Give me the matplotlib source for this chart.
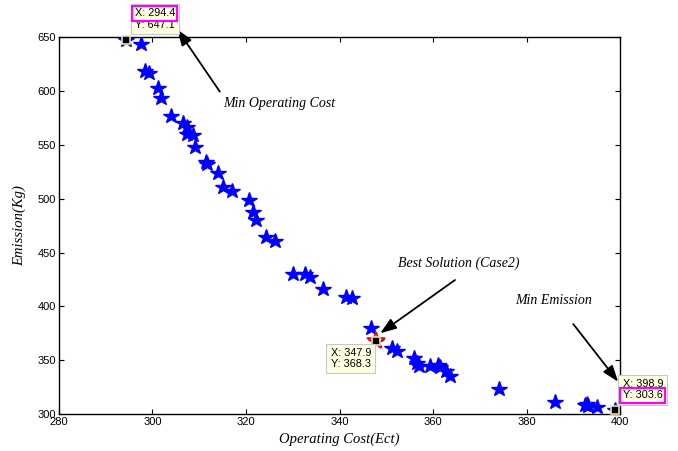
import numpy as np
import matplotlib.pyplot as plt

# Pareto front
cost = [294.4, 297.5, 298.4, 299.3, 301.2, 301.8, 303.9, 306.6, 307.3, 307.4,
        308.7, 309.1, 311.4, 311.7, 314.1, 315.1, 317.1, 320.7, 321.4, 322.1,
        324.2, 326.1, 330.1, 332.6, 333.7, 336.4, 341.3, 342.6, 346.7, 347.9,
        351.2, 352.4, 355.9, 356.6, 357.1, 359.4, 361.1, 361.5, 362.8, 363.6,
        374.2, 386.1, 392.5, 392.9, 393.2, 395.1, 398.9]
emission = [647.1, 643.5, 619.0, 617.1, 602.6, 593.9, 577.2, 570.7, 566.4, 560.2,
            559.2, 548.4, 534.4, 532.3, 524.2, 511.2, 507.5, 498.8, 487.4, 480.2,
            464.7, 461.0, 430.1, 430.1, 427.0, 416.1, 409.0, 408.1, 379.6, 368.3,
            361.1, 358.8, 351.7, 347.1, 344.9, 344.9, 345.5, 343.4, 340.2, 335.3,
            322.9, 310.9, 308.4, 309.3, 307.7, 306.2, 303.6]

min_cost = (294.4, 647.1)
best = (347.9, 368.3)
min_emis = (398.9, 303.6)

x_ticks = [280, 300, 320, 340, 360, 380, 400]
y_ticks = [300, 350, 400, 450, 500, 550, 600, 650]

sans = ['Liberation Sans', 'DejaVu Sans']
serif = ['Liberation Serif', 'DejaVu Serif']
plt.rcParams['font.family'] = sans

fig = plt.figure(figsize=(6.78, 4.51), dpi=100)
ax = fig.add_axes([0.087, 0.082, 0.8275, 0.8353])

ax.plot(cost, emission, linestyle='none', marker='*', markersize=11.5,
        color='#0000ff', markeredgecolor='#0000ff')
ax.plot(best[0], best[1], linestyle='none', marker='*', markersize=13,
        color='white', markeredgecolor='red', markeredgewidth=1.2, zorder=3)

tip_bg = '#ffffe1'
for p in (min_cost, best, min_emis):
    ax.plot(p[0], p[1], linestyle='none', marker='s', markersize=6,
            color='black', markeredgecolor='#e8e0b0', markeredgewidth=1.2,
            zorder=4, clip_on=False)

def tip(p, dx, dy, va, hl=None):
    txt = 'X: %.1f\nY: %.1f' % p
    ax.annotate(txt, xy=p, xytext=(dx, dy), textcoords='offset points',
                ha='left', va=va, fontsize=7.8, linespacing=1.15,
                bbox=dict(boxstyle='square,pad=0.38', fc=tip_bg, ec='#c8c8c8', lw=0.8),
                zorder=6, annotation_clip=False)
    if hl is not None:
        ax.annotate(hl, xy=p, xytext=(dx, dy), textcoords='offset points',
                    ha='left', va=va, fontsize=7.8, color='none',
                    bbox=dict(boxstyle='square,pad=0.22', fc='none', ec='#ff00ff', lw=1.6),
                    zorder=7, annotation_clip=False)

tip(min_cost, 6.0, 23.0, 'top', hl='X: %.1f' % min_cost[0])
tip(best, -33.0, -5.5, 'top')
tip(min_emis, 5.5, 7.0, 'bottom', hl='Y: %.1f' % min_emis[1])

arrow = dict(arrowstyle='-|>,head_length=0.7,head_width=0.25', color='black',
             lw=1.3, mutation_scale=14, shrinkA=0, shrinkB=0)
ax.annotate('', xy=(305.3, 657.4), xytext=(314.4, 599.5), arrowprops=arrow,
            annotation_clip=False)
ax.annotate('', xy=(348.7, 375.0), xytext=(364.7, 424.5), arrowprops=arrow)
ax.annotate('', xy=(399.6, 330.0), xytext=(390.0, 383.6), arrowprops=arrow,
            annotation_clip=False)

ax.text(315.1, 588.9, 'Min Operating Cost', family=serif, style='italic',
        fontsize=10, va='center')
ax.text(352.5, 440.3, 'Best Solution (Case2)', family=serif, style='italic',
        fontsize=10, va='center')
ax.text(377.5, 405.9, 'Min Emission', family=serif, style='italic',
        fontsize=10, va='center')

ax.set_xlim(280, 400)
ax.set_ylim(300, 650)
ax.set_xticks(x_ticks)
ax.set_yticks(y_ticks)
ax.tick_params(direction='in', top=True, right=True, length=3.5, width=0.8,
               labelsize=8, pad=2)
for s in ax.spines.values():
    s.set_linewidth(1.0)

ax.set_xlabel('Operating Cost(Ect)', family=serif, style='italic', fontsize=10.5,
              labelpad=4)
ax.set_ylabel('Emission(Kg)', family=serif, style='italic', fontsize=10.5,
              labelpad=8)

fig.savefig('out.png', dpi=100)
